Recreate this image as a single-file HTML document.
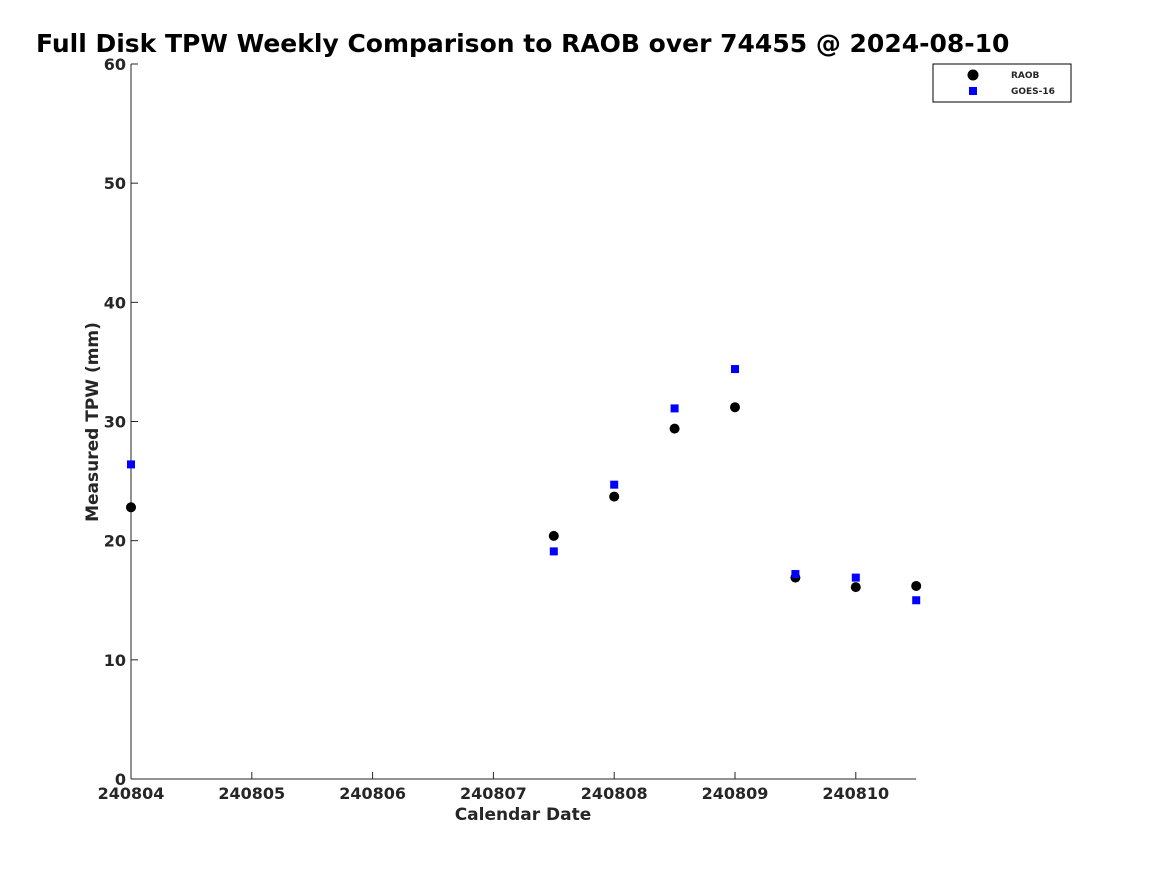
<!DOCTYPE html>
<html><head><meta charset="utf-8"><style>
body{margin:0;background:#fff}
svg text{font-family:"DejaVu Sans","Liberation Sans",sans-serif;font-weight:bold;fill:#262626}
</style></head><body>
<svg id="chart" width="1167" height="875" xmlns="http://www.w3.org/2000/svg">
<text x="36" y="52" font-size="25" style="fill:#000">Full Disk TPW Weekly Comparison to RAOB over 74455 @ 2024-08-10</text>
<g id="axes"></g>
<g id="marks"></g>
<text x="523" y="820" font-size="17" text-anchor="middle">Calendar Date</text>
<text transform="translate(98,422) rotate(-90)" font-size="17" text-anchor="middle">Measured TPW (mm)</text>
<g>
<rect x="933" y="64" width="138" height="38" fill="#fff" stroke="#000" stroke-width="1"/>
<circle cx="973" cy="75" r="5.5" fill="#000"/>
<text x="1011" y="78" font-size="9">RAOB</text>
<rect x="969" y="87" width="8" height="8" fill="#0000ff"/>
<text x="1011" y="94" font-size="9">GOES-16</text>
</g>
</svg>
<script>
const xTickLabels=["240804","240805","240806","240807","240808","240809","240810"];
const yTickLabels=[0,10,20,30,40,50,60];
const dayOffsets=[0,3.5,4,4.5,5,5.5,6,6.5];
const raobValues=[22.8,20.4,23.7,29.4,31.2,16.9,16.1,16.2];
const goesValues=[26.4,19.1,24.7,31.1,34.4,17.2,16.9,15.0];
const X0=131,PXD=120.8,Y0=779,PXU=(779-64)/60;
const xs=d=>X0+d*PXD, ys=v=>Y0-v*PXU;
const NS="http://www.w3.org/2000/svg";
const ax=document.getElementById('axes'),mk=document.getElementById('marks');
function mkEl(t,a,p){const e=document.createElementNS(NS,t);for(const k in a)e.setAttribute(k,a[k]);p.appendChild(e);return e;}
const yl=mkEl('line',{x1:X0,y1:64,x2:X0,y2:Y0,stroke:'#262626'},ax);


const xl=mkEl('line',{x1:X0,y1:Y0,x2:xs(6.5),y2:Y0,stroke:'#262626'},ax);


xTickLabels.forEach((l,i)=>{
 mkEl('line',{x1:xs(i),y1:Y0,x2:xs(i),y2:Y0-7,stroke:'#262626'},ax);
 const t=mkEl('text',{x:xs(i),y:Y0+20,'font-size':16,'text-anchor':'middle'},ax);
 t.textContent=l;
 
 
});
yTickLabels.forEach(v=>{
 mkEl('line',{x1:X0,y1:ys(v),x2:X0+7,y2:ys(v),stroke:'#262626'},ax);
 const t=mkEl('text',{x:X0-5,y:ys(v)+6,'font-size':16,'text-anchor':'end'},ax);
 t.textContent=v;
 
 
});
dayOffsets.forEach((d,i)=>{
 const c=mkEl('circle',{cx:xs(d),cy:ys(raobValues[i]),r:5,fill:'#000'},mk);
 
 
 const r=mkEl('rect',{x:xs(d)-4,y:ys(goesValues[i])-4,width:8,height:8,fill:'#0000ff'},mk);
 
 
});
</script>
</body></html>
